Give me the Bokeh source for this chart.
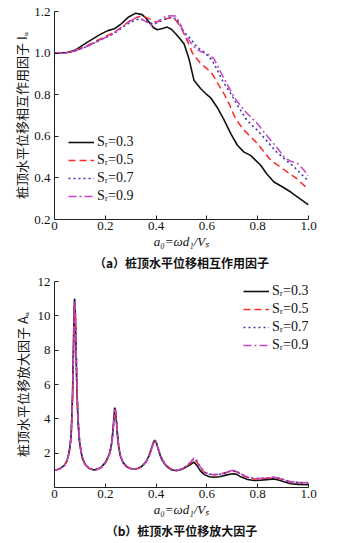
from bokeh.plotting import figure
from bokeh.layouts import column
from bokeh.models import Range1d, FixedTicker, Legend, LegendItem, Title
from bokeh.embed import file_html
from bokeh.resources import INLINE

# ---------------- data: (a) interaction factor I_u ----------------
series_labels = ["Sᵣ=0.3", "Sᵣ=0.5", "Sᵣ=0.7", "Sᵣ=0.9"]

a_iu_03 = [0, 0.05, 0.08, 0.13, 0.18, 0.21, 0.236, 0.263, 0.29, 0.32, 0.345, 0.36, 0.375, 0.39,
           0.405, 0.425, 0.444, 0.46, 0.477, 0.49, 0.51, 0.53, 0.549, 0.575, 0.6, 0.615, 0.64,
           0.667, 0.695, 0.72, 0.745, 0.773, 0.79, 0.812, 0.835, 0.864, 0.9, 0.93, 0.96, 1.0]
iu_03 = [1.0, 1.003, 1.013, 1.053, 1.09, 1.108, 1.117, 1.141, 1.172, 1.192,
         1.185, 1.168, 1.145, 1.122, 1.112, 1.118, 1.125, 1.115, 1.093, 1.075,
         1.045, 0.97, 0.87, 0.83, 0.80, 0.785, 0.74, 0.68, 0.61, 0.557,
         0.525, 0.507, 0.487, 0.461, 0.42, 0.38, 0.355, 0.332, 0.305, 0.27]

a_iu_05 = [0, 0.05, 0.08, 0.13, 0.2, 0.236, 0.27, 0.30, 0.339, 0.36, 0.378, 0.40, 0.418, 0.44,
           0.464, 0.48, 0.503, 0.53, 0.543, 0.575, 0.6, 0.621, 0.645, 0.667, 0.69, 0.707, 0.727,
           0.746, 0.77, 0.799, 0.825, 0.851, 0.88, 0.917, 0.95, 1.0]
iu_05 = [1.0, 1.003, 1.012, 1.037, 1.08, 1.10, 1.13, 1.16, 1.178, 1.172, 1.162, 1.15, 1.155,
         1.165, 1.172, 1.155, 1.11, 1.04, 1.0, 0.95, 0.925, 0.90, 0.85, 0.805, 0.75, 0.70,
         0.66, 0.63, 0.60, 0.565, 0.525, 0.485, 0.46, 0.428, 0.40, 0.345]

a_iu_07 = [0, 0.05, 0.08, 0.13, 0.2, 0.236, 0.27, 0.30, 0.335, 0.36, 0.39, 0.42, 0.45, 0.48,
           0.51, 0.536, 0.56, 0.589, 0.621, 0.64, 0.661, 0.694, 0.72, 0.753, 0.775, 0.799,
           0.82, 0.845, 0.87, 0.904, 0.943, 0.97, 1.0]
iu_07 = [1.0, 1.002, 1.01, 1.033, 1.075, 1.095, 1.125, 1.15, 1.165, 1.155, 1.138, 1.155,
         1.172, 1.165, 1.10, 1.069, 1.03, 1.005, 0.965, 0.92, 0.869, 0.805, 0.75, 0.685,
         0.655, 0.629, 0.60, 0.565, 0.53, 0.493, 0.453, 0.42, 0.385]

a_iu_09 = [0, 0.05, 0.08, 0.13, 0.2, 0.22, 0.26, 0.30, 0.326, 0.355, 0.385, 0.415, 0.444,
           0.477, 0.495, 0.51, 0.53, 0.556, 0.58, 0.602, 0.628, 0.661, 0.707, 0.746, 0.775,
           0.799, 0.825, 0.851, 0.88, 0.904, 0.93, 0.957, 0.98, 1.0]
iu_09 = [1.0, 1.002, 1.01, 1.033, 1.075, 1.085, 1.12, 1.155, 1.173, 1.155, 1.133, 1.16, 1.18,
         1.178, 1.14, 1.095, 1.06, 1.021, 1.005, 0.997, 0.973, 0.893, 0.789, 0.725, 0.69,
         0.661, 0.62, 0.581, 0.54, 0.50, 0.48, 0.469, 0.44, 0.41]

# ---------------- data: (b) amplification factor A_u ----------------
a_au = [0, 0.02, 0.04, 0.05, 0.055, 0.06, 0.065, 0.068, 0.071, 0.074,
        0.077, 0.079, 0.081, 0.084, 0.087, 0.09, 0.094, 0.098, 0.104, 0.11,
        0.12, 0.135, 0.155, 0.17, 0.185, 0.2, 0.21, 0.218, 0.225, 0.23,
        0.234, 0.237, 0.24, 0.244, 0.248, 0.253, 0.26, 0.27, 0.285, 0.3,
        0.315, 0.33, 0.345, 0.36, 0.372, 0.382, 0.39, 0.395, 0.4, 0.407,
        0.415, 0.425, 0.44, 0.46, 0.48, 0.5, 0.52, 0.535, 0.549, 0.56,
        0.575, 0.59, 0.61, 0.628, 0.65, 0.675, 0.7, 0.715, 0.733, 0.76,
        0.786, 0.81, 0.835, 0.864, 0.885, 0.91, 0.93, 0.96, 1.0]
au_03 = [1.0, 1.08, 1.3, 1.6, 1.9, 2.3, 3.0, 4.0, 5.5, 7.8,
         10.2, 11.0, 10.6, 8.6, 6.4, 4.8, 3.5, 2.7, 2.1, 1.7,
         1.35, 1.12, 1.02, 1.07, 1.2, 1.45, 1.75, 2.05, 2.6, 3.3,
         4.1, 4.65, 4.5, 3.8, 3.0, 2.3, 1.8, 1.45, 1.2, 1.1,
         1.08, 1.12, 1.25, 1.5, 1.85, 2.3, 2.65, 2.75, 2.65, 2.3,
         1.9, 1.55, 1.25, 1.03, 0.98, 1.05, 1.2, 1.33, 1.48, 1.3,
         0.95, 0.75, 0.63, 0.6, 0.63, 0.72, 0.8, 0.78, 0.62, 0.47,
         0.41, 0.42, 0.46, 0.5, 0.42, 0.3, 0.22, 0.18, 0.16]
au_05 = [1.0, 1.08, 1.3, 1.58, 1.85, 2.2, 2.8, 3.7, 5.0, 7.0,
         9.4, 10.6, 10.8, 9.2, 7.0, 5.2, 3.8, 2.9, 2.2, 1.75,
         1.38, 1.13, 1.02, 1.06, 1.18, 1.42, 1.7, 1.98, 2.5, 3.15,
         3.9, 4.45, 4.5, 3.95, 3.15, 2.4, 1.85, 1.48, 1.22, 1.1,
         1.07, 1.1, 1.22, 1.46, 1.8, 2.22, 2.58, 2.7, 2.66, 2.35,
         1.95, 1.6, 1.3, 1.06, 1.0, 1.07, 1.25, 1.42, 1.62, 1.5,
         1.12, 0.88, 0.76, 0.74, 0.76, 0.86, 0.95, 0.93, 0.76, 0.58,
         0.5, 0.5, 0.54, 0.58, 0.52, 0.4, 0.32, 0.28, 0.26]
au_07 = [1.0, 1.08, 1.3, 1.59, 1.88, 2.25, 2.9, 3.85, 5.2, 7.4,
         9.8, 10.9, 10.7, 8.9, 6.7, 5.0, 3.65, 2.8, 2.15, 1.72,
         1.36, 1.12, 1.02, 1.06, 1.19, 1.43, 1.72, 2.0, 2.55, 3.2,
         4.0, 4.55, 4.5, 3.9, 3.1, 2.35, 1.82, 1.46, 1.21, 1.1,
         1.07, 1.11, 1.23, 1.48, 1.82, 2.25, 2.6, 2.72, 2.66, 2.33,
         1.93, 1.58, 1.28, 1.05, 1.0, 1.07, 1.26, 1.45, 1.68, 1.55,
         1.15, 0.9, 0.77, 0.75, 0.77, 0.87, 0.98, 0.96, 0.78, 0.6,
         0.52, 0.52, 0.56, 0.6, 0.54, 0.42, 0.33, 0.29, 0.27]
au_09 = [1.0, 1.08, 1.3, 1.59, 1.87, 2.22, 2.85, 3.8, 5.1, 7.2,
         9.6, 10.8, 10.8, 9.0, 6.8, 5.1, 3.7, 2.85, 2.18, 1.74,
         1.37, 1.13, 1.02, 1.06, 1.18, 1.42, 1.71, 1.99, 2.52, 3.18,
         3.95, 4.5, 4.52, 3.92, 3.12, 2.38, 1.84, 1.47, 1.22, 1.1,
         1.07, 1.11, 1.23, 1.47, 1.81, 2.24, 2.59, 2.71, 2.67, 2.34,
         1.94, 1.59, 1.29, 1.06, 1.0, 1.08, 1.27, 1.47, 1.72, 1.6,
         1.18, 0.92, 0.78, 0.75, 0.78, 0.88, 1.0, 0.98, 0.8, 0.61,
         0.52, 0.53, 0.57, 0.6, 0.55, 0.43, 0.34, 0.3, 0.28]

x_ticks = [0, 0.2, 0.4, 0.6, 0.8, 1.0]
x_tick_labels = ["0", "0.2", "0.4", "0.6", "0.8", "1.0"]
iu_ticks = [0.2, 0.4, 0.6, 0.8, 1.0, 1.2]
iu_tick_labels = ["0.2", "0.4", "0.6", "0.8", "1.0", "1.2"]
au_ticks = [2, 4, 6, 8, 10, 12]
au_tick_labels = ["2", "4", "6", "8", "10", "12"]

x_title = "a₀=ωd₁/Vₛ"
iu_title = "桩顶水平位移相互作用因子 Iᵤ"
au_title = "桩顶水平位移放大因子 Aᵤ"
cap_a = "（a）桩顶水平位移相互作用因子"
cap_b = "（b）桩顶水平位移放大因子"

# ---------------- styling ----------------
SERIF = "Liberation Serif"
CJK = "Noto Sans CJK SC"
styles = [
    dict(color="#111111", line_width=1.6, line_dash="solid"),
    dict(color="#ff2b2b", line_width=1.5, line_dash="7 4"),
    dict(color="#3a3ab0", line_width=1.6, line_dash="2 3"),
    dict(color="#c444c4", line_width=1.5, line_dash="8 3 2 3"),
]


def make_fig(h, yr, yticks, ylabels, bottom_b, ytitle, cap, ylab_standoff):
    p = figure(width=350, height=h, x_range=Range1d(0, 1), y_range=Range1d(*yr),
               output_backend="svg", toolbar_location=None,
               min_border_left=54, min_border_right=42, min_border_top=11,
               min_border_bottom=bottom_b)
    p.outline_line_color = None
    p.xgrid.visible = False
    p.ygrid.visible = False
    p.background_fill_color = "white"
    p.border_fill_color = "white"
    for ax in (p.xaxis[0], p.yaxis[0]):
        ax.axis_line_color = "#222222"
        ax.major_tick_line_color = "#222222"
        ax.major_tick_in = 4
        ax.major_tick_out = 0
        ax.minor_tick_line_color = None
        ax.major_label_text_font = SERIF
        ax.major_label_text_font_size = "13px"
        ax.major_label_text_color = "#111111"
        ax.axis_label_text_color = "#111111"
    p.xaxis.ticker = FixedTicker(ticks=x_ticks)
    p.xaxis.major_label_overrides = {t: l for t, l in zip(x_ticks, x_tick_labels)}
    p.xaxis.major_label_standoff = 2
    p.xaxis.axis_label = x_title
    p.xaxis.axis_label_text_font = SERIF
    p.xaxis.axis_label_text_font_style = "italic"
    p.xaxis.axis_label_text_font_size = "13px"
    p.xaxis.axis_label_standoff = 1
    p.yaxis.ticker = FixedTicker(ticks=yticks)
    p.yaxis.major_label_overrides = {t: l for t, l in zip(yticks, ylabels)}
    p.yaxis.major_label_standoff = 4
    p.yaxis.axis_label = ytitle
    p.yaxis.axis_label_text_font = CJK
    p.yaxis.axis_label_text_font_style = "normal"
    p.yaxis.axis_label_text_font_size = "13px"
    p.yaxis.axis_label_standoff = ylab_standoff
    p.add_layout(Title(text=cap, align="center", text_font=CJK, text_font_size="12px",
                       text_font_style="bold", text_color="#111111", standoff=0), "below")
    return p


p1 = make_fig(270, (0.2, 1.2), iu_ticks, iu_tick_labels, 51, iu_title, cap_a, 0)
p2 = make_fig(273, (0, 12), au_ticks, au_tick_labels, 56, au_title, cap_b, 3)

items1 = []
for xs, ys, lab, st in zip([a_iu_03, a_iu_05, a_iu_07, a_iu_09],
                           [iu_03, iu_05, iu_07, iu_09], series_labels, styles):
    r = p1.line(xs, ys, **st)
    items1.append(LegendItem(label=lab, renderers=[r]))

items2 = []
for ys, lab, st in zip([au_03, au_05, au_07, au_09], series_labels, styles):
    r = p2.line(a_au, ys, **st)
    items2.append(LegendItem(label=lab, renderers=[r]))


def make_legend(items, loc):
    lg = Legend(items=items, location=loc, padding=0, margin=0, spacing=0,
                glyph_width=26, glyph_height=18, label_height=18, label_standoff=3,
                label_text_font=SERIF, label_text_font_size="14px",
                label_text_color="#111111",
                border_line_color=None, background_fill_alpha=0)
    return lg


p1.add_layout(make_legend(items1, (14, 14)))
p2.add_layout(make_legend(items2, (189, 133)))

layout = column(p1, p2, spacing=0)
open("out.html", "w").write(file_html(layout, INLINE))
